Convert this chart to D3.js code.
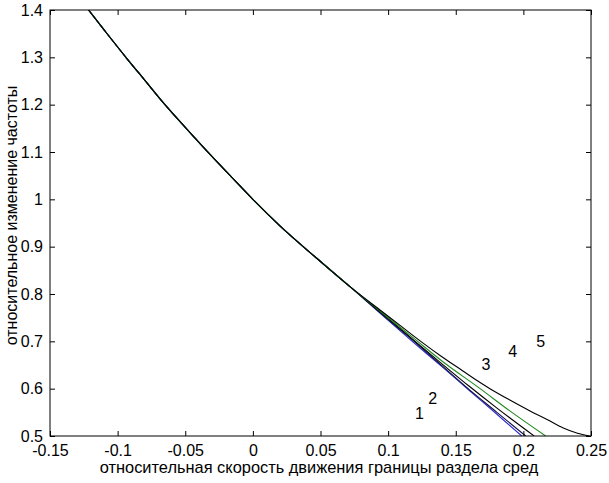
<!DOCTYPE html>
<html>
<head>
<meta charset="utf-8">
<script src="https://cdn.jsdelivr.net/npm/d3@7"></script>
<style>
    body { margin: 0; background: #fff; }
    #chart { width: 609px; height: 483px; }
    text { font-family: "Liberation Sans", Arial, sans-serif; fill: #000; }
</style>
</head>
<body>
<div id="chart"></div>
<script>
// part of the curve that all five lines share
var sharedX = [-0.1215, -0.11, -0.0933, -0.08, -0.065, -0.05, -0.0317, -0.015, 0, 0.02, 0.047, 0.072];
var sharedY = [1.40, 1.358, 1.298, 1.252, 1.20, 1.152, 1.095, 1.045, 1.0, 0.944, 0.876, 0.815];

// tails where the lines split apart
var tail1X = [0.095, 0.1174, 0.14, 0.1605, 0.18, 0.1988];
var tail1Y = [0.757, 0.701, 0.646, 0.595, 0.547, 0.5];
var tail2X = [0.095, 0.12, 0.14, 0.16, 0.18, 0.2017];
var tail2Y = [0.758, 0.698, 0.648, 0.598, 0.551, 0.5];
var tail3X = [0.095, 0.12, 0.14, 0.16, 0.18, 0.208];
var tail3Y = [0.760, 0.700, 0.652, 0.605, 0.560, 0.5];
var tail4X = [0.095, 0.12, 0.14, 0.168, 0.19, 0.2165];
var tail4Y = [0.762, 0.704, 0.658, 0.600, 0.553, 0.5];
var tail5X = [0.095, 0.11, 0.1236, 0.14, 0.155, 0.168, 0.1753, 0.19, 0.2049, 0.2175, 0.2295, 0.24, 0.249];
var tail5Y = [0.764, 0.731, 0.701, 0.667, 0.638, 0.613, 0.600, 0.576, 0.553, 0.535, 0.517, 0.506, 0.500];

var seriesColors = ["#2a2ad0", "#101040", "#000000", "#1f8a1f", "#000000"];

var labelText = ["1", "2", "3", "4", "5"];
var labelX = [0.1231, 0.133, 0.1724, 0.1921, 0.2128];
var labelY = [0.548, 0.580, 0.651, 0.680, 0.701];

var xTicks = [-0.15, -0.1, -0.05, 0, 0.05, 0.1, 0.15, 0.2, 0.25];
var xTickLabels = ["-0.15", "-0.1", "-0.05", "0", "0.05", "0.1", "0.15", "0.2", "0.25"];
var yTicks = [0.5, 0.6, 0.7, 0.8, 0.9, 1.0, 1.1, 1.2, 1.3, 1.4];
var yTickLabels = ["0.5", "0.6", "0.7", "0.8", "0.9", "1", "1.1", "1.2", "1.3", "1.4"];

var xTitle = "относительная скорость движения границы раздела сред";
var yTitle = "относительное изменение частоты";

function zipPoints(xs, ys) {
    return xs.map(function (x, i) { return { x: x, y: ys[i] }; });
}

class LinePlot {
    constructor(_element) {
        this.element = _element;
        this.initVis();
    }
    initVis() {
        var vis = this;
        vis.margin = { left: 50, right: 18, top: 10, bottom: 47 };
        vis.width = 609 - vis.margin.left - vis.margin.right;
        vis.height = 483 - vis.margin.top - vis.margin.bottom;

        vis.svg = d3.select(vis.element)
            .append("svg")
            .attr("width", 609)
            .attr("height", 483);
        vis.g = vis.svg.append("g")
            .attr("transform", "translate(" + vis.margin.left + ", " + vis.margin.top + ")");

        vis.x = d3.scaleLinear().domain([-0.15, 0.25]).range([0, vis.width]);
        vis.y = d3.scaleLinear().domain([0.5, 1.4]).range([vis.height, 0]);

        vis.series = [
            zipPoints(sharedX.concat(tail1X), sharedY.concat(tail1Y)),
            zipPoints(sharedX.concat(tail2X), sharedY.concat(tail2Y)),
            zipPoints(sharedX.concat(tail3X), sharedY.concat(tail3Y)),
            zipPoints(sharedX.concat(tail4X), sharedY.concat(tail4Y)),
            zipPoints(sharedX.concat(tail5X), sharedY.concat(tail5Y))
        ];
        vis.updateVis();
    }
    updateVis() {
        var vis = this;

        vis.svg.append("defs").append("clipPath")
            .attr("id", "plot-clip")
            .append("rect")
            .attr("width", vis.width)
            .attr("height", vis.height);

        var line = d3.line()
            .x(function (d) { return vis.x(d.x); })
            .y(function (d) { return vis.y(d.y); })
            .curve(d3.curveMonotoneX);

        vis.g.append("g")
            .attr("clip-path", "url(#plot-clip)")
            .selectAll("path")
            .data(vis.series)
            .enter()
            .append("path")
            .attr("d", line)
            .attr("fill", "none")
            .attr("stroke", function (d, i) { return seriesColors[i]; })
            .attr("stroke-width", 1.1);

        // axes, ticks pointing inward like matlab
        var xAxisCall = d3.axisBottom(vis.x)
            .tickValues(xTicks)
            .tickFormat(function (d, i) { return xTickLabels[i]; })
            .tickSizeInner(-5).tickSizeOuter(0).tickPadding(9);
        var xTopCall = d3.axisTop(vis.x)
            .tickValues(xTicks).tickFormat("")
            .tickSizeInner(-5).tickSizeOuter(0);
        var yAxisCall = d3.axisLeft(vis.y)
            .tickValues(yTicks)
            .tickFormat(function (d, i) { return yTickLabels[i]; })
            .tickSizeInner(-5).tickSizeOuter(0).tickPadding(7);
        var yRightCall = d3.axisRight(vis.y)
            .tickValues(yTicks).tickFormat("")
            .tickSizeInner(-5).tickSizeOuter(0);

        var axes = [
            vis.g.append("g").attr("transform", "translate(0," + vis.height + ")").call(xAxisCall),
            vis.g.append("g").call(xTopCall),
            vis.g.append("g").call(yAxisCall),
            vis.g.append("g").attr("transform", "translate(" + vis.width + ",0)").call(yRightCall)
        ];
        axes.forEach(function (a) {
            a.select(".domain").remove();
            a.selectAll("line").attr("stroke", "#000");
            a.selectAll("text")
                .attr("font-size", "16px")
                .attr("font-family", "Liberation Sans, Arial, sans-serif")
                .attr("fill", "#111");
        });

        vis.g.append("rect")
            .attr("width", vis.width)
            .attr("height", vis.height)
            .attr("fill", "none")
            .attr("stroke", "#000")
            .attr("stroke-width", 1);

        vis.g.selectAll(".curve-label")
            .data(labelText)
            .enter()
            .append("text")
            .attr("class", "curve-label")
            .attr("x", function (d, i) { return vis.x(labelX[i]); })
            .attr("y", function (d, i) { return vis.y(labelY[i]); })
            .attr("dy", "0.36em")
            .attr("text-anchor", "middle")
            .attr("font-size", "16px")
            .text(function (d) { return d; });

        vis.g.append("text")
            .attr("x", 269)
            .attr("y", vis.height + 37)
            .attr("font-size", "16.4px")
            .attr("text-anchor", "middle")
            .text(xTitle);
        vis.g.append("text")
            .attr("transform", "translate(" + (17 - vis.margin.left) + ", 205.5) rotate(-90)")
            .attr("font-size", "16px")
            .attr("text-anchor", "middle")
            .text(yTitle);
    }
}

var plot = new LinePlot("#chart");
</script>
</body>
</html>
